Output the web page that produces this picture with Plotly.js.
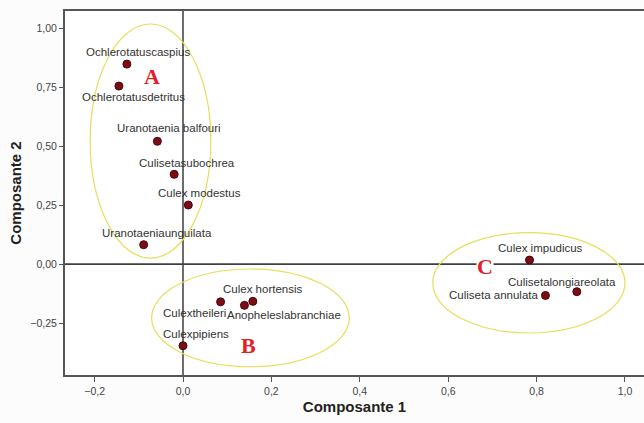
<!DOCTYPE html>
<html>
<head>
<meta charset="utf-8">
<script src="https://cdn.plot.ly/plotly-3.0.1.min.js"></script>
<style>html,body{margin:0;padding:0;background:#fcfcfc;}#chart{width:644px;height:423px;}</style>
</head>
<body>
<div id="chart"></div>
<script>
// Data
const species = ["Ochlerotatuscaspius","Ochlerotatusdetritus","Uranotaenia balfouri","Culisetasubochrea","Culex modestus","Uranotaeniaunguilata","Culextheileri","Anopheleslabranchiae","Culex hortensis","Culexpipiens","Culex impudicus","Culisetalongiareolata","Culiseta annulata"];
const comp1 = [-0.127,-0.145,-0.058,-0.020,0.012,-0.089,0.085,0.139,0.158,0.000,0.784,0.891,0.820];
const comp2 = [0.847,0.754,0.520,0.380,0.250,0.082,-0.160,-0.175,-0.158,-0.346,0.017,-0.117,-0.133];
const groupNames = ["A","B","C"];
const groupX = [-0.071,0.148,0.683];
const groupY = [0.794,-0.343,-0.011];
// ellipse bounds per group [x0,x1,y0,y1]
const ellX0 = [-0.210,-0.071,0.565];
const ellX1 = [0.063,0.376,1.000];
const ellY0 = [0.025,-0.435,-0.292];
const ellY1 = [1.017,-0.021,0.133];

// label offsets (pixels) - styling
const labXShift = [11,15,12,13,11,13,-26,40,10,13,11,-15,-52];
const labYShift = [12,-11,13,11,12,12,-11,-10,12,12,12,10,0];

const annotations = species.map((s,i)=>({
  x: comp1[i], y: comp2[i], text: s, showarrow:false,
  xshift: labXShift[i], yshift: labYShift[i],
  font:{family:"Arial, Liberation Sans, sans-serif", size:11.5, color:"#333"}
}));
groupNames.forEach((g,i)=>annotations.push({
  x: groupX[i], y: groupY[i], text: "<b>"+g+"</b>", showarrow:false,
  bgcolor: i===2 ? "#ffffff" : "rgba(0,0,0,0)",
  borderpad: 0,
  font:{family:"Liberation Serif, DejaVu Serif, serif", size:22, color:"#e2202a"}
}));

const shapes = groupNames.map((g,i)=>({
  type:"circle", xref:"x", yref:"y", layer:"below",
  x0: ellX0[i], x1: ellX1[i], y0: ellY0[i], y1: ellY1[i],
  line:{color:"#e6df5a", width:1.2}
}));
shapes.push({type:"line", xref:"x", yref:"paper", x0:0, x1:0, y0:0, y1:1, layer:"below", line:{color:"#6d6d6d", width:2}});
shapes.push({type:"line", xref:"paper", yref:"y", x0:0, x1:1, y0:0, y1:0, layer:"below", line:{color:"#404040", width:1.8}});

const trace = {
  x: comp1, y: comp2, text: species, mode:"markers", type:"scatter",
  marker:{size:8, color:"#7b0d16", line:{color:"#4a050a", width:1}},
  hoverinfo:"text"
};

const layout = {
  width:644, height:423,
  margin:{l:65, r:0, t:11, b:48},
  paper_bgcolor:"#fcfcfc", plot_bgcolor:"#ffffff",
  separators:", ",
  showlegend:false,
  xaxis:{
    range:[-0.267,1.043], tickvals:[-0.2,0,0.2,0.4,0.6,0.8,1.0], tickformat:".1f",
    showgrid:false, zeroline:false, showline:true, mirror:true, linecolor:"#555", linewidth:2,
    ticks:"outside", ticklen:5, tickcolor:"#555",
    tickfont:{family:"Arial, Liberation Sans, sans-serif", size:10.5, color:"#444"},
    title:{text:"<b>Composante 1</b>", standoff:6, font:{family:"Arial, Liberation Sans, sans-serif", size:15, color:"#222"}}
  },
  yaxis:{
    range:[-0.470,1.072], tickvals:[-0.25,0,0.25,0.5,0.75,1.0], tickformat:".2f",
    showgrid:false, zeroline:false, showline:true, linecolor:"#555", linewidth:2,
    ticks:"outside", ticklen:4, tickcolor:"#555",
    tickfont:{family:"Arial, Liberation Sans, sans-serif", size:10.5, color:"#444"},
    title:{text:"<b>Composante 2</b>", standoff:5, font:{family:"Arial, Liberation Sans, sans-serif", size:15, color:"#222"}}
  },
  shapes: shapes,
  annotations: annotations
};

Plotly.newPlot("chart", [trace], layout, {displayModeBar:false, staticPlot:true});
</script>
</body>
</html>
